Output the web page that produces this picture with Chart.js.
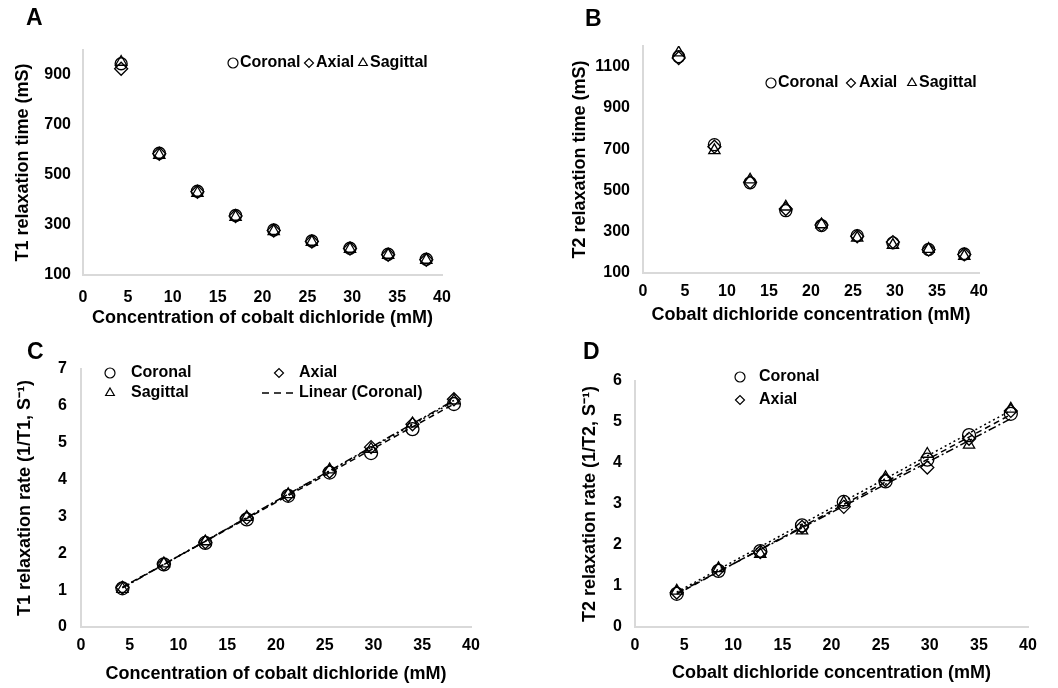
<!DOCTYPE html>
<html>
<head>
<meta charset="utf-8">
<title>Cobalt dichloride relaxation</title>
<script src="https://cdn.jsdelivr.net/npm/chart.js@4.4.1/dist/chart.umd.min.js"></script>
<style>
  html, body { margin: 0; padding: 0; background: #fff; }
  body { width: 1058px; height: 688px; position: relative; overflow: hidden; font-family: 'Liberation Sans', Arial, sans-serif; }
  .panel { position: absolute; width: 529px; }
  .letter { position: absolute; font-size: 23px; font-weight: bold; line-height: 23px; color: #000; }
</style>
</head>
<body>
<div class="panel" style="left:0;top:0;height:330px"><canvas id="chartA"></canvas></div>
<div class="panel" style="left:529px;top:0;height:330px"><canvas id="chartB"></canvas></div>
<div class="panel" style="left:0;top:330px;height:358px"><canvas id="chartC"></canvas></div>
<div class="panel" style="left:529px;top:330px;height:358px"><canvas id="chartD"></canvas></div>
<div class="letter" style="left:26px;top:6px">A</div>
<div class="letter" style="left:585px;top:7px">B</div>
<div class="letter" style="left:27px;top:340px">C</div>
<div class="letter" style="left:583px;top:340px">D</div>
<script>
'use strict';

//cobalt dichloride concentration of the nine phantoms (mM)
const concentration = [4.25, 8.5, 12.75, 17, 21.25, 25.5, 29.75, 34, 38.25];
const xTicks = [0, 5, 10, 15, 20, 25, 30, 35, 40];

//panel A: T1 relaxation time (mS)
const t1Coronal = [945, 587, 435, 338, 280, 236, 207, 183, 163];
const t1Axial = [925, 585, 433, 336, 278, 234, 206, 181, 161];
const t1Sagittal = [952, 580, 428, 332, 275, 232, 204, 180, 160];
const t1Ticks = [100, 300, 500, 700, 900];

//panel B: T2 relaxation time (mS)
const t2Coronal = [1148, 722, 537, 402, 330, 281, 246, 214, 192];
const t2Axial = [1142, 712, 540, 410, 333, 278, 250, 213, 190];
const t2Sagittal = [1168, 694, 552, 421, 335, 270, 235, 216, 182];
const t2Ticks = [100, 300, 500, 700, 900, 1100];

//panel C: T1 relaxation rate (1/s)
const r1Coronal = [1.05, 1.70, 2.28, 2.92, 3.56, 4.19, 4.72, 5.37, 6.05];
const r1Axial = [1.07, 1.71, 2.30, 2.96, 3.58, 4.22, 4.88, 5.50, 6.18];
const r1Sagittal = [1.03, 1.72, 2.32, 2.98, 3.60, 4.27, 4.83, 5.52, 6.14];
const r1Ticks = [0, 1, 2, 3, 4, 5, 6, 7];
//linear trend lines, value at first and last concentration
const r1FitCoronal = [1.08, 6.05];
const r1FitAxial = [1.06, 6.15];
const r1FitSagittal = [1.07, 6.12];

//panel D: T2 relaxation rate (1/s)
const r2Coronal = [0.81, 1.37, 1.85, 2.48, 3.05, 3.55, 4.08, 4.68, 5.20];
const r2Axial = [0.84, 1.40, 1.83, 2.44, 2.93, 3.58, 3.89, 4.59, 5.27];
const r2Sagittal = [0.88, 1.43, 1.78, 2.35, 3.04, 3.65, 4.22, 4.44, 5.32];
const r2Ticks = [0, 1, 2, 3, 4, 5, 6];
const r2FitCoronal = [0.80, 5.18];
const r2FitAxial = [0.82, 5.08];
const r2FitSagittal = [0.85, 5.28];

const FONT = "'Liberation Sans', Arial, sans-serif";
const AXIS_GRAY = '#d9d9d9';
Chart.defaults.font.family = FONT;
Chart.defaults.color = '#000';

//pair each value with its concentration
function points(values){
  return values.map((v, i) => ({x: concentration[i], y: v}));
}

//two point trend line across the measured range
function fitLine(ends){
  return [
    {x: concentration[0], y: ends[0]},
    {x: concentration[concentration.length - 1], y: ends[1]}
  ];
}

function markerSet(label, values, style, radius){
  return {
    label: label,
    data: points(values),
    pointStyle: style,
    pointRadius: radius,
    pointBorderWidth: 1.3,
    pointBorderColor: '#000',
    pointBackgroundColor: 'rgba(255,255,255,0)',
    showLine: false
  };
}

function trendSet(label, ends, dash){
  return {
    label: label,
    data: fitLine(ends),
    showLine: true,
    borderColor: '#000',
    borderWidth: 1.5,
    borderDash: dash,
    pointRadius: 0
  };
}

//legend drawn at fixed spots, the built in one can not sit inside the plot like this
const panelLegend = {
  id: 'panelLegend',
  afterDraw(chart, args, opts){
    const ctx = chart.ctx;
    ctx.save();
    ctx.font = 'bold 16px ' + FONT;
    ctx.textBaseline = 'middle';
    ctx.strokeStyle = '#000';
    for (let item of opts.items || []){
      if (item.dash){
        ctx.lineWidth = 1.6;
        ctx.setLineDash(item.dash);
        ctx.beginPath();
        ctx.moveTo(item.x, item.y);
        ctx.lineTo(item.x2, item.y);
        ctx.stroke();
        ctx.setLineDash([]);
      } else {
        ctx.lineWidth = 1.2;
        ctx.fillStyle = 'rgba(0,0,0,0)';
        Chart.helpers.drawPoint(ctx, {pointStyle: item.style, radius: item.r, borderWidth: 1.2, rotation: 0}, item.x, item.y);
      }
      ctx.fillStyle = '#000';
      ctx.fillText(item.label, item.tx, item.y);
    }
    ctx.restore();
  }
};

function makeChart(id, cfg){
  const scales = {
    x: {
      type: 'linear',
      min: 0,
      max: 40,
      afterBuildTicks: axis => { axis.ticks = xTicks.map(v => ({value: v})); },
      afterFit: axis => { axis.height = cfg.xHeight; },
      grid: {display: false, drawTicks: false},
      border: {display: true, color: AXIS_GRAY, width: 2},
      ticks: {font: {size: 16, weight: 'bold'}, padding: cfg.xTickPad, callback: v => String(v)},
      title: {display: true, text: cfg.xTitle, font: {size: 18, weight: 'bold'}, padding: {top: 0, bottom: cfg.xTitlePad}}
    },
    y: {
      type: 'linear',
      min: cfg.yMin,
      max: cfg.yMax,
      afterBuildTicks: axis => { axis.ticks = cfg.yTicks.map(v => ({value: v})); },
      afterFit: axis => { axis.width = cfg.yWidth; },
      grid: {display: false, drawTicks: false},
      border: {display: true, color: AXIS_GRAY, width: 2},
      ticks: {font: {size: 16, weight: 'bold'}, padding: cfg.yTickPad, callback: v => String(v)},
      title: {display: true, text: cfg.yTitle, font: {size: 18, weight: 'bold'}, padding: {top: cfg.yTitlePad, bottom: 0}}
    }
  };

  return new Chart(document.getElementById(id), {
    type: 'scatter',
    data: {datasets: cfg.datasets},
    options: {
      responsive: true,
      maintainAspectRatio: false,
      animation: false,
      layout: {padding: cfg.padding},
      scales: scales,
      plugins: {
        legend: {display: false},
        tooltip: {enabled: false},
        panelLegend: {items: cfg.legend}
      }
    },
    plugins: [panelLegend]
  });
}

makeChart('chartA', {
  xTitle: 'Concentration of cobalt dichloride (mM)',
  yTitle: 'T1 relaxation time (mS)',
  yMin: 100, yMax: 1000, yTicks: t1Ticks,
  padding: {left: 0, top: 50, right: 87, bottom: 0},
  yWidth: 83, xHeight: 55,
  xTickPad: 13, yTickPad: 12, xTitlePad: 1, yTitlePad: 12,
  datasets: [
    markerSet('Coronal', t1Coronal, 'circle', 6),
    markerSet('Axial', t1Axial, 'rectRot', 6.5),
    markerSet('Sagittal', t1Sagittal, 'triangle', 6.5)
  ],
  legend: [
    {label: 'Coronal', style: 'circle', r: 5, x: 233, tx: 240, y: 63},
    {label: 'Axial', style: 'rectRot', r: 4.5, x: 309, tx: 316, y: 63},
    {label: 'Sagittal', style: 'triangle', r: 5, x: 363, tx: 370, y: 63}
  ]
});

makeChart('chartB', {
  xTitle: 'Cobalt dichloride concentration (mM)',
  yTitle: 'T2 relaxation time (mS)',
  yMin: 100, yMax: 1200, yTicks: t2Ticks,
  padding: {left: 0, top: 46, right: 79, bottom: 0},
  yWidth: 114, xHeight: 57,
  xTickPad: 9, yTickPad: 13, xTitlePad: 4, yTitlePad: 40,
  datasets: [
    markerSet('Coronal', t2Coronal, 'circle', 6),
    markerSet('Axial', t2Axial, 'rectRot', 6.5),
    markerSet('Sagittal', t2Sagittal, 'triangle', 6.5)
  ],
  legend: [
    {label: 'Coronal', style: 'circle', r: 5, x: 242, tx: 249, y: 83},
    {label: 'Axial', style: 'rectRot', r: 4.5, x: 322, tx: 330, y: 83},
    {label: 'Sagittal', style: 'triangle', r: 5, x: 383, tx: 390, y: 83}
  ]
});

makeChart('chartC', {
  xTitle: 'Concentration of cobalt dichloride (mM)',
  yTitle: 'T1 relaxation rate (1/T1, S\u207B\u00B9)',
  yMin: 0, yMax: 7, yTicks: r1Ticks,
  padding: {left: 0, top: 39, right: 58, bottom: 0},
  yWidth: 81, xHeight: 61,
  xTickPad: 9, yTickPad: 14, xTitlePad: 3, yTitlePad: 14,
  datasets: [
    markerSet('Coronal', r1Coronal, 'circle', 6.5),
    markerSet('Axial', r1Axial, 'rectRot', 6.5),
    markerSet('Sagittal', r1Sagittal, 'triangle', 6.5),
    trendSet('Linear (Coronal)', r1FitCoronal, [6, 4]),
    trendSet('Linear (Axial)', r1FitAxial, [8, 3, 2, 3]),
    trendSet('Linear (Sagittal)', r1FitSagittal, [2, 3])
  ],
  legend: [
    {label: 'Coronal', style: 'circle', r: 5, x: 110, tx: 131, y: 43},
    {label: 'Axial', style: 'rectRot', r: 4.5, x: 279, tx: 299, y: 43},
    {label: 'Sagittal', style: 'triangle', r: 5, x: 110, tx: 131, y: 63},
    {label: 'Linear (Coronal)', dash: [7, 5], x: 262, x2: 295, tx: 299, y: 63}
  ]
});

makeChart('chartD', {
  xTitle: 'Cobalt dichloride concentration (mM)',
  yTitle: 'T2 relaxation rate (1/T2, S\u207B\u00B9)',
  yMin: 0, yMax: 6, yTicks: r2Ticks,
  padding: {left: 0, top: 51, right: 30, bottom: 0},
  yWidth: 106, xHeight: 61,
  xTickPad: 9, yTickPad: 13, xTitlePad: 4, yTitlePad: 50,
  datasets: [
    markerSet('Coronal', r2Coronal, 'circle', 6.5),
    markerSet('Axial', r2Axial, 'rectRot', 6.5),
    markerSet('Sagittal', r2Sagittal, 'triangle', 6.5),
    trendSet('Linear (Coronal)', r2FitCoronal, [6, 4]),
    trendSet('Linear (Axial)', r2FitAxial, [8, 3, 2, 3]),
    trendSet('Linear (Sagittal)', r2FitSagittal, [2, 3])
  ],
  legend: [
    {label: 'Coronal', style: 'circle', r: 5, x: 211, tx: 230, y: 47},
    {label: 'Axial', style: 'rectRot', r: 4.5, x: 211, tx: 230, y: 70}
  ]
});
</script>
</body>
</html>
